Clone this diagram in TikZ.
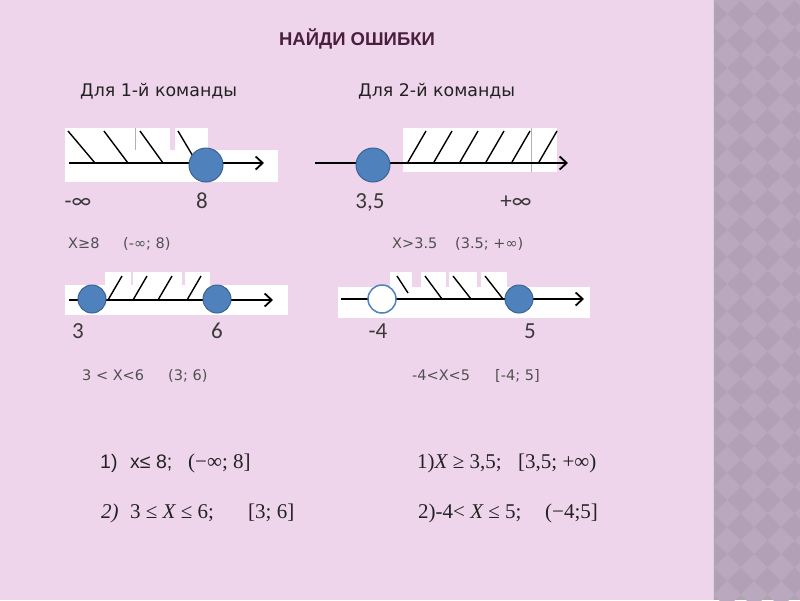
\documentclass[tikz,border=0pt]{standalone}
\usepackage{fontspec}
\setmainfont{Liberation Sans}
\newfontfamily\calib{Carlito}
\newfontfamily\dejav{DejaVu Sans}
\newfontfamily\serf{Liberation Serif}
\usetikzlibrary{arrows.meta}
\definecolor{bgpink}{HTML}{EFD5EC}
\definecolor{strip}{HTML}{B1A0B6}
\definecolor{stripl}{HTML}{B9A8BE}
\definecolor{titlec}{HTML}{4A1F3E}
\definecolor{blueA}{HTML}{4F81BD}
\definecolor{blueB}{HTML}{3A6491}
\definecolor{txt}{HTML}{222222}
\definecolor{gtxt}{HTML}{3A3A3A}
\definecolor{ltxt}{HTML}{505050}
\tikzset{
  dot/.style={circle, minimum size=34pt, inner sep=0pt, fill=blueA, draw=blueB, line width=1pt},
  smalldot/.style={circle, minimum size=28pt, inner sep=0pt, fill=blueA, draw=blueB, line width=1pt},
  opendot/.style={circle, minimum size=28pt, inner sep=0pt, fill=white, draw=blueA, line width=1.5pt},
  axis/.style={line width=2pt, -{Straight Barb[length=7pt,width=13pt,line width=1.8pt]}},
  hatch/.style={line width=1.4pt, black},
  wbox/.style={fill=white, draw=none},
  lab/.style={font=\calib\fontsize{23}{24}\selectfont, text=gtxt, inner sep=0pt, anchor=base},
  slab/.style={font=\dejav\fontsize{14.5}{16}\selectfont, text=ltxt, inner sep=0pt, anchor=base west},
  head/.style={font=\dejav\fontsize{17.4}{19}\selectfont, text=txt, inner sep=0pt, anchor=base west},
  ans/.style={font=\fontsize{19.5}{21}\selectfont, text=txt, inner sep=0pt, anchor=base west},
  sans/.style={font=\serf\fontsize{21}{23}\selectfont, text=txt, inner sep=0pt, anchor=base west}
}
\begin{document}
\begin{tikzpicture}[x=1pt,y=-1pt]
\useasboundingbox (0,0) rectangle (800,600);
\fill[bgpink] (0,0) rectangle (800,600);
% right strip
\fill[strip] (713,0) rectangle (800,600);
\begin{scope}
\clip (714,0) rectangle (800,600);
\foreach \i in {0,...,4}{
  \foreach \j in {0,...,24}{
    \fill[stripl] ({714+13+27*\i},{27*\j-13}) -- ++(13.5,13.5) -- ++(-13.5,13.5) -- ++(-13.5,-13.5) -- cycle;
  }
}
\end{scope}
\draw[line width=1.2pt, color=stripl!50!white] (713.5,0) -- (713.5,600);

% title
\node[font=\fontsize{18.5}{20}\selectfont\bfseries, text=titlec, inner sep=0pt, anchor=base] (title) at (357,45) {НАЙДИ ОШИБКИ};
\node[head] (h1) at (80,96) {Для 1-й команды};
\node[head] (h2) at (358,96) {Для 2-й команды};

% ---------- diagram 1
\fill[wbox] (65,150) rectangle (278,182);
\fill[wbox] (65,128) rectangle (170,150);
\fill[wbox] (175,128) rectangle (208,150);
\draw[gray!60, line width=0.6pt] (135,128) -- (135,150);
\coordinate (a1s) at (69,163);
\coordinate (a1e) at (264,163);
\draw[axis] (a1s) -- (a1e);
\foreach \t/\b in {68/95, 104/128, 140/163, 178/197}{
  \draw[hatch] (\t,131) -- (\b,163);
}
\node[dot] (c1) at (206,165) {};
\node[lab] (l1a) at (78,208) {-∞};
\node[lab] (l1b) at (202,208) {8};
\node[slab] (s1a) at (68,248) {X≥8};
\node[slab] (s1b) at (123,248) {(-∞; 8)};

% ---------- diagram 2
\fill[wbox] (403,128) rectangle (557,172);
\draw[gray!60, line width=0.6pt] (531,128) -- (531,172);
\coordinate (a2s) at (315,163);
\coordinate (a2e) at (568,163);
\draw[axis] (a2s) -- (a2e);
\foreach \b in {408,434,460,486,512,539}{
  \draw[hatch] (\b,162) -- ({\b+18},131);
}
\node[dot] (c2) at (373,165) {};
\node[lab] (l2a) at (370,208) {3,5};
\node[lab] (l2b) at (516,208) {+∞};
\node[slab] (s2a) at (392,248) {X>3.5};
\node[slab] (s2b) at (455,248) {(3.5; +∞)};

% ---------- diagram 3
\fill[wbox] (65,285) rectangle (288,315);
\fill[wbox] (105,272) rectangle (131,285);
\fill[wbox] (133,272) rectangle (182,285);
\fill[wbox] (185,272) rectangle (210,285);
\coordinate (a3s) at (69,300);
\coordinate (a3e) at (273,300);
\draw[axis] (a3s) -- (a3e);
\foreach \b in {108,133,158,187}{
  \draw[hatch] (\b,300) -- ({\b+14},276);
}
\node[smalldot] (c3a) at (92,299) {};
\node[smalldot] (c3b) at (217,299) {};
\node[lab] (l3a) at (78,338) {3};
\node[lab] (l3b) at (217,338) {6};
\node[slab] (s3a) at (82,380) {3 < X<6};
\node[slab] (s3b) at (168,380) {(3; 6)};

% ---------- diagram 4
\fill[wbox] (338,287) rectangle (590,318);
\fill[wbox] (390,272) rectangle (412,287);
\fill[wbox] (421,272) rectangle (446,287);
\fill[wbox] (449,272) rectangle (477,287);
\fill[wbox] (481,272) rectangle (507,287);
\coordinate (a4s) at (341,299);
\coordinate (a4e) at (584,299);
\draw[axis] (a4s) -- (a4e);
\draw[hatch] (397,276) -- (408,293);
\foreach \t/\b in {425/442, 453/471, 485/503}{
  \draw[hatch] (\t,276) -- (\b,299);
}
\node[opendot] (c4a) at (382,299) {};
\node[smalldot] (c4b) at (519,299) {};
\node[lab] (l4a) at (378,338) {-4};
\node[lab] (l4b) at (530,338) {5};
\node[slab] (s4a) at (412,380) {-4<X<5};
\node[slab] (s4b) at (495,380) {[-4; 5]};

% ---------- answers
\node[ans] (r1a) at (100,468) {1)};
\node[ans] (r1b) at (130,468) {x≤ 8;};
\node[sans] (r1c) at (188,468) {(−∞; 8]};
\node[sans] (r2a) at (101,518) {\itshape 2)};
\node[sans] (r2b) at (130,518) {3 ≤ \itshape X\upshape\ ≤ 6;};
\node[sans] (r2c) at (248,518) {[3; 6]};
\node[sans] (r3a) at (417,468) {1)\itshape X\upshape\ ≥ 3,5;};
\node[sans] (r3b) at (518,468) {[3,5; +∞)};
\node[sans] (r4a) at (418,518) {2)-4< \itshape X\upshape\ ≤ 5;};
\node[sans] (r4b) at (545,518) {(−4;5]};
\end{tikzpicture}
\end{document}
